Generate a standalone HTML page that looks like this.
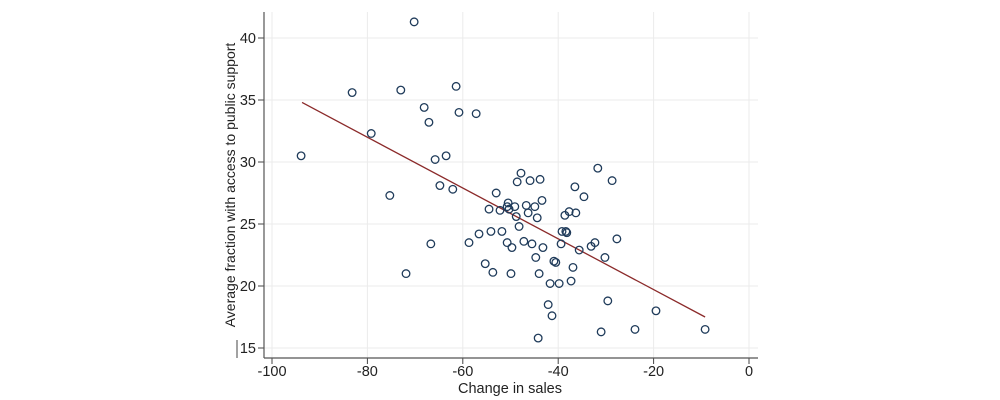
<!DOCTYPE html>
<html><head><meta charset="utf-8"><style>
body{margin:0;background:#fff;}
svg{display:block;font-family:"Liberation Sans",sans-serif;}
</style></head><body>
<svg id="chart" width="1000" height="400" viewBox="0 0 1000 400">
<g id="grid"></g>
<g id="axes"></g>
<g id="fit"></g>
<g id="pts"></g>
<text x="510" y="393" font-size="14.5" text-anchor="middle" fill="#222">Change in sales</text>
<text transform="translate(235,185) rotate(-90)" font-size="14" text-anchor="middle" fill="#222">Average fraction with access to public support</text>
</svg>
<script>
const xTicks=[-100,-80,-60,-40,-20,0];
const yTicks=[15,20,25,30,35,40];
const xVals=[-93.9,-83.2,-79.2,-70.2,-73.0,-68.1,-67.1,-61.4,-60.8,-57.2,-65.8,-63.5,-64.8,-62.1,-75.3,-53.0,
-31.7,-28.7,-47.8,-48.6,-45.9,-43.8,-36.5,-34.6,-54.5,-52.2,-50.5,-50.7,-49.1,-50.3,-46.7,-44.9,-43.4,-46.3,-44.4,-48.8,-48.2,
-38.6,-37.7,-36.3,-39.2,-38.4,-38.2,-58.7,-56.6,-54.1,-51.8,-50.7,-49.7,-47.2,-45.5,-43.2,-39.4,-35.6,-33.1,-32.3,-27.7,-30.2,
-55.3,-53.7,-49.9,-44.7,-40.9,-40.5,-44.0,-36.9,-41.7,-39.8,-37.3,-42.1,-41.3,-44.2,-29.6,-19.5,-23.9,-31.0,-9.2,-71.9,-66.7];
const yVals=[30.5,35.6,32.3,41.3,35.8,34.4,33.2,36.1,34.0,33.9,30.2,30.5,28.1,27.8,27.3,27.5,
29.5,28.5,29.1,28.4,28.5,28.6,28.0,27.2,26.2,26.1,26.7,26.4,26.4,26.2,26.5,26.4,26.9,25.9,25.5,25.6,24.8,
25.7,26.0,25.9,24.4,24.4,24.3,23.5,24.2,24.4,24.4,23.5,23.1,23.6,23.4,23.1,23.4,22.9,23.2,23.5,23.8,22.3,
21.8,21.1,21.0,22.3,22.0,21.9,21.0,21.5,20.2,20.2,20.4,18.5,17.6,15.8,18.8,18.0,16.5,16.3,16.5,21.0,23.4];
const fitX=[-93.7,-9.2];
const fitY=[34.8,17.5];
const NS='http://www.w3.org/2000/svg';
const sx=v=>749+(v)*4.77;
const sy=v=>38+(40-v)*12.4;
function mk(tag,attrs,parent){const e=document.createElementNS(NS,tag);for(const k in attrs)e.setAttribute(k,attrs[k]);parent.appendChild(e);return e;}
const grid=document.getElementById('grid'),axes=document.getElementById('axes'),fit=document.getElementById('fit'),pts=document.getElementById('pts');
xTicks.forEach(t=>{
 const g=mk('line',{x1:sx(t),x2:sx(t),y1:12,y2:358,stroke:'#ebebeb','stroke-width':1},grid);
 
 
 const tk=mk('line',{x1:sx(t),x2:sx(t),y1:358,y2:364,stroke:'#444'},axes);
 
 
 const l=mk('text',{x:sx(t),y:376,'font-size':14.5,'text-anchor':'middle',fill:'#222'},axes);
 l.textContent=t;
 
 
});
yTicks.forEach(t=>{
 const g=mk('line',{x1:264,x2:758,y1:sy(t),y2:sy(t),stroke:'#ebebeb','stroke-width':1},grid);
 
 
 const tk=mk('line',{x1:258,x2:264,y1:sy(t),y2:sy(t),stroke:'#444'},axes);
 
 
 const l=mk('text',{x:256,y:sy(t)+5,'font-size':14.5,'text-anchor':'end',fill:'#222'},axes);
 l.textContent=t;
 
 
});
const bar=mk('line',{x1:237,x2:237,y1:340,y2:358,stroke:'#444'},axes);


const ya=mk('line',{x1:264,x2:264,y1:12,y2:358,stroke:'#555','stroke-width':1.2},axes);


const xa=mk('line',{x1:264,x2:758,y1:358,y2:358,stroke:'#555','stroke-width':1.2},axes);


const fl=mk('line',{x1:sx(fitX[0]),y1:sy(fitY[0]),x2:sx(fitX[1]),y2:sy(fitY[1]),stroke:'#8b2a2a','stroke-width':1.3},fit);


xVals.forEach((x,i)=>{
 const c=mk('circle',{cx:sx(x),cy:sy(yVals[i]),r:3.8,fill:'none',stroke:'#1f3b5a','stroke-width':1.3},pts);
 
 
});
</script>
</body></html>
